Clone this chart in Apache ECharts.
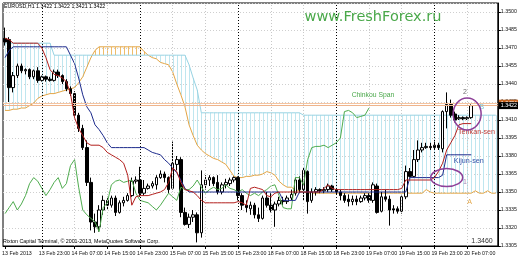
<!DOCTYPE html>
<html><head><meta charset="utf-8">
<script src="https://cdn.jsdelivr.net/npm/echarts@6/dist/echarts.min.js"></script>
<style>html,body{margin:0;padding:0;background:#fff}#c{width:520px;height:260px}</style>
</head><body><div id="c"></div>
<script>
// ---- data ----
const sessions = [['13 Feb',14,23],['14 Feb',0,23],['15 Feb',0,23],['18 Feb',0,23],['19 Feb',0,23],['20 Feb',0,14]];
const tickLabels = ['13 Feb 2013','13 Feb 23:00','14 Feb 07:00','14 Feb 15:00','14 Feb 23:00','15 Feb 07:00','15 Feb 15:00','15 Feb 23:00','18 Feb 07:00','18 Feb 15:00','18 Feb 23:00','19 Feb 07:00','19 Feb 15:00','19 Feb 23:00','20 Feb 07:00'];
const daySeparators = ['13 Feb 23:00','14 Feb 23:00','15 Feb 23:00','18 Feb 23:00','19 Feb 23:00'];
// open, close, low, high
const candles = [
[1.3478,1.3475,1.3472,1.3487],[1.3477,1.3437,1.3425,1.3479],[1.3437,1.3447,1.3433,1.3450],[1.3447,1.3455,1.3445,1.3457],[1.3455,1.3451,1.3449,1.3457],
[1.3451,1.3452,1.3448,1.3453],[1.3452,1.3446,1.3444,1.3453],[1.3446,1.3451,1.3444,1.3452],[1.3451,1.3443,1.3441,1.3454],[1.3443,1.3446,1.3442,1.3447],
[1.3446,1.3444,1.3442,1.3447],[1.3444,1.3443,1.3442,1.3446],[1.3443,1.3450,1.3442,1.3452],[1.3450,1.3447,1.3445,1.3452],[1.3447,1.3442,1.3440,1.3448],
[1.3442,1.3436,1.3434,1.3444],[1.3436,1.3432,1.3430,1.3438],[1.3432,1.3414,1.3412,1.3434],[1.3414,1.3403,1.3400,1.3416],[1.3403,1.3387,1.3385,1.3406],
[1.3387,1.3358,1.3355,1.3393],[1.3358,1.3325,1.3318,1.3362],[1.3325,1.3321,1.3316,1.3332],[1.3321,1.3335,1.3317,1.3339],[1.3335,1.3343,1.3331,1.3347],
[1.3343,1.3339,1.3335,1.3346],[1.3339,1.3345,1.3337,1.3347],[1.3345,1.3333,1.3330,1.3347],[1.3333,1.3341,1.3332,1.3343],[1.3341,1.3343,1.3338,1.3346],
[1.3343,1.3347,1.3342,1.3349],[1.3347,1.3359,1.3346,1.3362],[1.3359,1.3360,1.3357,1.3363],[1.3360,1.3349,1.3346,1.3371],[1.3349,1.3353,1.3347,1.3360],
[1.3353,1.3355,1.3352,1.3357],[1.3355,1.3357,1.3353,1.3359],[1.3356,1.3362,1.3352,1.3364],[1.3362,1.3365,1.3361,1.3368],[1.3365,1.3362,1.3358,1.3367],
[1.3362,1.3352,1.3349,1.3363],[1.3353,1.3374,1.3352,1.3392],[1.3373,1.3377,1.3368,1.3380],[1.3377,1.3333,1.3329,1.3379],[1.3333,1.3323,1.3322,1.3337],
[1.3323,1.3329,1.3320,1.3332],[1.3329,1.3331,1.3325,1.3335],[1.3331,1.3316,1.3308,1.3333],[1.3316,1.3356,1.3312,1.3368],[1.3356,1.3360,1.3352,1.3364],
[1.3360,1.3362,1.3355,1.3364],[1.3362,1.3357,1.3355,1.3363],[1.3358,1.3350,1.3348,1.3364],[1.3350,1.3356,1.3348,1.3358],[1.3356,1.3358,1.3353,1.3361],
[1.3357,1.3360,1.3355,1.3362],[1.3360,1.3362,1.3358,1.3363],[1.3362,1.3347,1.3343,1.3363],[1.3347,1.3339,1.3335,1.3349],[1.3339,1.3337,1.3333,1.3343],
[1.3336,1.3339,1.3331,1.3342],[1.3339,1.3331,1.3328,1.3341],[1.3331,1.3328,1.3325,1.3337],[1.3328,1.3345,1.3327,1.3347],[1.3345,1.3339,1.3337,1.3350],
[1.3339,1.3335,1.3333,1.3349],[1.3335,1.3340,1.3321,1.3342],[1.3340,1.3343,1.3338,1.3346],[1.3343,1.3342,1.3339,1.3346],[1.3342,1.3345,1.3340,1.3347],
[1.3345,1.3348,1.3343,1.3352],[1.3349,1.3360,1.3347,1.3362],[1.3360,1.3352,1.3349,1.3363],[1.3352,1.3368,1.3343,1.3370],[1.3367,1.3342,1.3332,1.3368],
[1.3343,1.3350,1.3341,1.3353],[1.3350,1.3352,1.3347,1.3354],[1.3352,1.3351,1.3349,1.3353],[1.3351,1.3352,1.3349,1.3354],[1.3352,1.3355,1.3350,1.3357],
[1.3355,1.3352,1.3350,1.3356],[1.3352,1.3350,1.3348,1.3353],[1.3350,1.3347,1.3343,1.3352],[1.3347,1.3343,1.3341,1.3349],[1.3344,1.3342,1.3338,1.3348],
[1.3342,1.3344,1.3339,1.3347],[1.3344,1.3342,1.3339,1.3347],[1.3342,1.3345,1.3341,1.3347],[1.3345,1.3347,1.3343,1.3349],[1.3347,1.3343,1.3341,1.3349],
[1.3343,1.3356,1.3341,1.3358],[1.3355,1.3333,1.3332,1.3357],[1.3334,1.3346,1.3333,1.3350],[1.3346,1.3344,1.3342,1.3352],[1.3344,1.3335,1.3322,1.3347],
[1.3336,1.3335,1.3332,1.3339],[1.3336,1.3334,1.3332,1.3338],[1.3334,1.3346,1.3332,1.3347],[1.3346,1.3367,1.3344,1.3372],[1.3367,1.3363,1.3362,1.3370],
[1.3363,1.3377,1.3362,1.3385],[1.3377,1.3385,1.3375,1.3393],[1.3385,1.3387,1.3383,1.3391],[1.3387,1.3388,1.3386,1.3391],[1.3388,1.3387,1.3385,1.3391],
[1.3387,1.3389,1.3385,1.3392],[1.3389,1.3387,1.3385,1.3391],[1.3386,1.3417,1.3383,1.3418],[1.3417,1.3423,1.3403,1.3433],[1.3423,1.3414,1.3412,1.3427],
[1.3415,1.3410,1.3408,1.3417],[1.3411,1.3412,1.3410,1.3414],[1.3412,1.3411,1.3410,1.3413],[1.3411,1.3412,1.3410,1.3413],[1.3412,1.3422,1.3411,1.3423]
];
const tenkan = [
1.3478,1.3477,1.3474,1.3474,1.3474,1.3474,1.3474,1.3474,1.3474,1.3470,
1.3462,1.3452,1.3448,1.3447,1.3445,1.3442,1.3432,1.3412,1.3403,1.3397,
1.3391,1.3389,1.3389,1.3389,1.3387,1.3383,1.3381,1.3379,1.3377,1.3374,
1.3364,1.3339,1.3346,1.3347,1.3347,1.3347,1.3348,1.3349,1.3350,1.3352,
1.3358,1.3370,1.3367,1.3358,1.3352,1.3351,1.3350,1.3347,1.3343,1.3341,
1.3341,1.3341,1.3341,1.3341,1.3341,1.3341,1.3341,1.3342,1.3341,1.3339,
1.3353,1.3354,1.3353,1.3352,1.3347,1.3346,1.3349,1.3350,1.3350,1.3350,
1.3350,1.3350,1.3350,1.3350,1.3350,1.3350,1.3350,1.3350,1.3353,1.3356,
1.3353,1.3352,1.3352,1.3352,1.3352,1.3352,1.3352,1.3352,1.3352,1.3352,
1.3352,1.3352,1.3352,1.3352,1.3352,1.3352,1.3352,1.3353,1.3360,1.3360,
1.3360,1.3360,1.3360,1.3360,1.3360,1.3362,1.3367,1.3374,1.3385,1.3391,
1.3397,1.3406,1.3407,1.3407,1.3407
];
const kijun = [
1.3462,1.3468,1.3471,1.3471,1.3471,1.3471,1.3471,1.3471,1.3471,1.3471,
1.3471,1.3471,1.3471,1.3471,1.3471,1.3471,1.3464,1.3457,1.3445,1.3431,
1.3421,1.3416,1.3406,1.3402,1.3397,1.3391,1.3387,1.3387,1.3387,1.3387,
1.3387,1.3387,1.3387,1.3387,1.3387,1.3385,1.3383,1.3382,1.3381,1.3377,
1.3374,1.3370,1.3366,1.3360,1.3353,1.3350,1.3350,1.3350,1.3350,1.3350,
1.3350,1.3350,1.3350,1.3350,1.3350,1.3350,1.3350,1.3350,1.3350,1.3350,
1.3350,1.3350,1.3350,1.3350,1.3350,1.3350,1.3350,1.3350,1.3343,1.3343,
1.3343,1.3343,1.3350,1.3350,1.3350,1.3350,1.3350,1.3350,1.3350,1.3350,
1.3350,1.3350,1.3350,1.3350,1.3350,1.3350,1.3350,1.3350,1.3350,1.3350,
1.3350,1.3350,1.3350,1.3350,1.3350,1.3350,1.3350,1.3350,1.3350,1.3362,
1.3362,1.3362,1.3362,1.3362,1.3362,1.3362,1.3362,1.3364,1.3381,1.3381,
1.3381,1.3381,1.3381,1.3381,1.3381
];
const chinkou = [
1.3332,1.3337,1.3342,1.3335,1.3340,1.3347,1.3357,1.3362,1.3359,1.3353,
1.3347,1.3352,1.3358,1.3362,1.3353,1.3357,1.3372,1.3377,1.3354,1.3335,
1.3331,1.3328,1.3325,1.3317,1.3337,1.3341,1.3356,1.3359,1.3360,1.3358,
1.3359,1.3360,1.3349,1.3343,1.3342,1.3341,1.3338,1.3335,1.3339,1.3344,
1.3349,1.3346,1.3343,1.3354,1.3352,1.3352,1.3355,1.3360,1.3354,1.3349,
1.3352,1.3354,1.3352,1.3353,1.3356,1.3353,1.3352,1.3350,1.3352,1.3349,
1.3347,1.3349,1.3347,1.3350,1.3352,1.3355,1.3356,1.3347,1.3337,1.3336,
1.3336,1.3362,1.3362,1.3356,1.3377,1.3387,1.3388,1.3388,1.3389,1.3387,
1.3389,1.3391,1.3395,1.3417,1.3418,1.3416,1.3412,1.3413,1.3414,1.3420
];
const senkouA = [
1.3418,1.3418,1.3419,1.3419,1.3420,1.3420,1.3422,1.3424,1.3428,1.3430,
1.3431,1.3432,1.3432,1.3433,1.3434,1.3435,1.3436,1.3437,1.3441,1.3446,
1.3454,1.3462,1.3468,1.3471,1.3471,1.3471,1.3471,1.3471,1.3471,1.3471,
1.3471,1.3471,1.3471,1.3471,1.3467,1.3464,1.3462,1.3461,1.3458,1.3457,
1.3456,1.3450,1.3440,1.3431,1.3421,1.3406,1.3397,1.3389,1.3385,1.3382,
1.3380,1.3378,1.3377,1.3375,1.3373,1.3368,1.3363,1.3362,1.3362,1.3363,
1.3363,1.3364,1.3364,1.3365,1.3367,1.3366,1.3364,1.3359,1.3356,1.3354,
1.3354,1.3352,1.3351,1.3350,1.3349,1.3349,1.3349,1.3349,1.3349,1.3349,
1.3349,1.3349,1.3349,1.3349,1.3349,1.3349,1.3349,1.3349,1.3349,1.3349,
1.3349,1.3349,1.3349,1.3349,1.3349,1.3349,1.3349,1.3349,1.3349,1.3349,
1.3349,1.3349,1.3349,1.3352,1.3350,1.3349,1.3349,1.3349,1.3349,1.3349,
1.3349,1.3349,1.3349,1.3349,1.3349,1.3351,1.3349,1.3349,1.3351,1.3349,
1.3349
];
const senkouB = [
1.3474,1.3474,1.3474,1.3474,1.3474,1.3474,1.3474,1.3474,1.3474,1.3474,
1.3474,1.3474,1.3464,1.3464,1.3464,1.3464,1.3464,1.3464,1.3464,1.3464,
1.3464,1.3464,1.3464,1.3464,1.3464,1.3464,1.3464,1.3464,1.3464,1.3464,
1.3464,1.3464,1.3464,1.3464,1.3464,1.3464,1.3464,1.3464,1.3464,1.3464,
1.3464,1.3464,1.3464,1.3464,1.3464,1.3456,1.3445,1.3435,1.3416,1.3416,
1.3416,1.3416,1.3416,1.3416,1.3416,1.3416,1.3416,1.3416,1.3416,1.3416,
1.3416,1.3416,1.3416,1.3416,1.3416,1.3416,1.3416,1.3416,1.3416,1.3416,
1.3416,1.3416,1.3416,1.3414,1.3414,1.3414,1.3414,1.3414,1.3414,1.3414,
1.3414,1.3414,1.3414,1.3414,1.3414,1.3414,1.3414,1.3414,1.3414,1.3414,
1.3414,1.3414,1.3414,1.3414,1.3414,1.3414,1.3414,1.3414,1.3414,1.3414,
1.3414,1.3414,1.3414,1.3414,1.3414,1.3414,1.3414,1.3414,1.3414,1.3414,
1.3414,1.3414,1.3414,1.3414,1.3414,1.3414,1.3414,1.3414,1.3414,1.3414,
1.3414
];
const bidPrice = 1.3422;
const askPrice = 1.3424;
const quote = ['1.3422','1.3422','1.3421','1.3422'];
const yMin = 1.3305, yMax = 1.35075, yStep = 0.0015;

// ---- build ----
const categories = [];
sessions.forEach(([d, h0, h1]) => { for (let h = h0; h <= h1; h++) categories.push(d + ' ' + String(h).padStart(2, '0') + ':00'); });
const tickMap = {};
tickLabels.forEach((t, k) => { tickMap[k === 0 ? categories[0] : t] = t; });
const isTick = (idx, val) => Object.prototype.hasOwnProperty.call(tickMap, val);

const FONT = 'Liberation Sans';
const gridLines = tickLabels.slice(1).filter(t => daySeparators.indexOf(t) < 0)
  .map(t => ({xAxis: t, lineStyle: {color: '#c8c8c8', type: [1, 2], width: 1}}));
const sepLines = daySeparators.map(t => ({xAxis: t, lineStyle: {color: '#000', type: [1, 2], width: 1}}));
const priceLabel = (v, bg) => ({show: true, position: 'end', distance: 1, formatter: v.toFixed(4), color: '#fff',
  backgroundColor: bg, padding: [1, 1, 1, 2], fontSize: 5.3, fontFamily: FONT});

const chart = echarts.init(document.getElementById('c'), null, {renderer: 'canvas'});
chart.setOption({
  animation: false,
  backgroundColor: '#fff',
  grid: {left: 3, right: 21, top: 3, bottom: 14, show: true, borderColor: '#000', borderWidth: 1, backgroundColor: '#fff'},
  xAxis: {
    type: 'category', data: categories, boundaryGap: true,
    axisLine: {show: true, lineStyle: {color: '#000', width: 1}},
    axisTick: {show: true, interval: isTick, alignWithLabel: true, length: 3, lineStyle: {color: '#000'}},
    axisLabel: {show: false},
    splitLine: {show: false}
  },
  yAxis: {
    type: 'value', position: 'right', min: yMin, max: yMax, interval: yStep, scale: true,
    axisLine: {show: true, lineStyle: {color: '#000'}},
    axisTick: {show: true, length: 3, lineStyle: {color: '#000'}},
    axisLabel: {fontSize: 5.3, fontFamily: FONT, color: '#111', margin: 3, showMaxLabel: false,
      formatter: v => v.toFixed(4)},
    splitLine: {show: true, lineStyle: {color: '#cfcfcf', type: [1, 2], width: 1}}
  },
  series: [
    {
      type: 'custom', name: 'cloud', z: 1, silent: true, clip: true,
      data: senkouA.map((a, i) => [i, a, senkouB[i]]),
      encode: {x: 0, y: [1, 2]},
      renderItem: (params, api) => {
        const i = api.value(0), a = api.value(1), b = api.value(2);
        const p1 = api.coord([i, a]), p2 = api.coord([i, b]);
        const x = Math.round(p1[0]) + 0.5;
        return {type: 'line', shape: {x1: x, y1: p1[1], x2: x, y2: p2[1]},
          style: {stroke: a > b ? '#efbd6a' : '#bfe6ef', lineWidth: 1}};
      }
    },
    {
      type: 'line', name: 'Senkou A', data: senkouA, z: 2, symbol: 'none', showSymbol: false, silent: true,
      lineStyle: {color: '#e3a545', width: 1},
      markLine: {symbol: 'none', silent: true, animation: false, label: {show: false}, data: gridLines.concat(sepLines)}
    },
    {
      type: 'line', name: 'Senkou B', data: senkouB, z: 2, symbol: 'none', showSymbol: false, silent: true,
      lineStyle: {color: '#98d3e3', width: 1},
      markLine: {
        symbol: 'none', silent: true, animation: false, precision: 4,
        data: [
          {yAxis: askPrice, lineStyle: {color: '#f5c4a0', type: 'solid', width: 1}, label: priceLabel(askPrice, '#c8641e')},
          {yAxis: bidPrice, lineStyle: {color: '#eeb48c', type: 'solid', width: 1}, label: priceLabel(bidPrice, '#000')}
        ]
      }
    },
    {
      type: 'candlestick', name: 'EURUSD', z: 3, silent: true, barWidth: 3,
      data: candles,
      itemStyle: {color: '#fff', color0: '#000', borderColor: '#000', borderColor0: '#000', borderWidth: 1}
    },
    {type: 'line', name: 'Chinkou Span', data: chinkou, z: 4, symbol: 'none', showSymbol: false, silent: true,
      lineStyle: {color: '#4fac4f', width: 1}},
    {type: 'line', name: 'Kijun-sen', data: kijun, z: 4, symbol: 'none', showSymbol: false, silent: true,
      lineStyle: {color: '#1c2a8c', width: 1}},
    {type: 'line', name: 'Tenkan-sen', data: tenkan, z: 5, symbol: 'none', showSymbol: false, silent: true,
      lineStyle: {color: '#b3201e', width: 1}}
  ]
});

// ---- texts and annotations placed through the axis scales ----
const px = (i, v) => chart.convertToPixel({xAxisIndex: 0, yAxisIndex: 0}, [i, v]);
const g = [];
const txt = (x, y, text, size, fill, family, align, valign) => ({
  type: 'text', x: x, y: y, z: 100, silent: true,
  style: {text: text, fontSize: size, fontFamily: family || FONT, fill: fill, align: align || 'left', verticalAlign: valign || 'middle'}
});
tickLabels.forEach((t, k) => {
  const idx = categories.indexOf(k === 0 ? categories[0] : t);
  const p = px(idx, yMin);
  g.push(txt(Math.max(1, p[0] - 3), 254, t, 5.3, '#111'));
});
g.push(txt(4, 7, 'EURUSD,H1 ' + quote.join(' '), 5.3, '#000'));
g.push(txt(3, 242, 'Rixton Capital Terminal, \u00a9 2001-2013, MetaQuotes Software Corp.', 5.3, '#000'));
g.push(txt(373, 17, 'www.FreshForex.ru', 14.5, '#4aa84a', 'DejaVu Sans', 'center'));
g.push(txt(482, 241, '1.3460', 7, '#333', FONT, 'center'));

const note = (i, v, text, color, size, dx) => { const p = px(i, v); g.push(txt(p[0] + (dx || 0), p[1], text, size || 7, color)); };
note(85, 1.3431, 'Chinkou Span', '#4aa84a', 6.8, -1);
note(111, 1.3400, 'Tenkan-sen', '#c0403a', 7.2, -1);
note(110, 1.3376, 'Kijun-sen', '#3552a8', 7.2, -1);
note(112, 1.3433, '2', '#707070', 7);
note(112, 1.3358, '1', '#a488b4', 7);
note(113, 1.3342, 'A', '#e3a545', 7);
note(116, 1.3421, 'B', '#7cc4d6', 7);

const ring = (i, v, rx, ry) => { const p = px(i, v);
  g.push({type: 'ellipse', z: 101, silent: true, shape: {cx: p[0], cy: p[1], rx: rx, ry: ry},
    style: {fill: 'none', stroke: '#8d3f98', lineWidth: 1.5}}); };
ring(107.5, 1.3362, 16, 9);
ring(112.7, 1.3415, 14, 16);

chart.setOption({graphic: g});
</script>
</body></html>
